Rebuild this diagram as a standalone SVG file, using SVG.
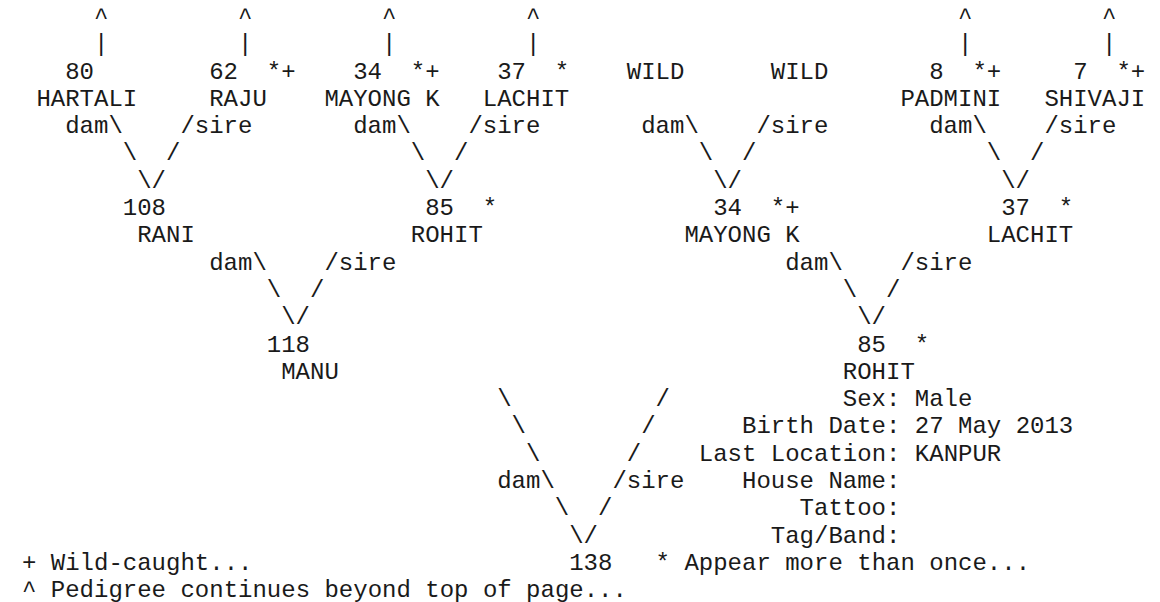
<svg xmlns="http://www.w3.org/2000/svg" width="1160" height="602" viewBox="0 0 1160 602" xml:space="preserve">
<style>
text { font-family: "Liberation Mono", "Courier New", monospace; font-size: 24px; fill: #1a1a1a; white-space: pre; }
</style>
<rect width="1160" height="602" fill="#ffffff"/>
<g id="connectors">
  <text x="94" y="23.9">^</text><text x="238" y="23.9">^</text><text x="382" y="23.9">^</text><text x="526" y="23.9">^</text><text x="958" y="23.9">^</text><text x="1102" y="23.9">^</text>
  <text x="94" y="51.2">|</text><text x="238" y="51.2">|</text><text x="382" y="51.2">|</text><text x="526" y="51.2">|</text><text x="958" y="51.2">|</text><text x="1102" y="51.2">|</text>
  <text x="65.2" y="133.1">dam\</text><text x="180.4" y="133.1">/sire</text>
  <text x="353.2" y="133.1">dam\</text><text x="468.4" y="133.1">/sire</text>
  <text x="641.2" y="133.1">dam\</text><text x="756.4" y="133.1">/sire</text>
  <text x="929.2" y="133.1">dam\</text><text x="1044.4" y="133.1">/sire</text>
  <text x="122.8" y="160.4">\</text><text x="166" y="160.4">/</text>
  <text x="410.8" y="160.4">\</text><text x="454" y="160.4">/</text>
  <text x="698.8" y="160.4">\</text><text x="742" y="160.4">/</text>
  <text x="986.8" y="160.4">\</text><text x="1030" y="160.4">/</text>
  <text x="137.2" y="187.7">\/</text><text x="425.2" y="187.7">\/</text><text x="713.2" y="187.7">\/</text><text x="1001.2" y="187.7">\/</text>
  <text x="209.2" y="269.6">dam\</text><text x="324.4" y="269.6">/sire</text>
  <text x="785.2" y="269.6">dam\</text><text x="900.4" y="269.6">/sire</text>
  <text x="266.8" y="296.9">\</text><text x="310" y="296.9">/</text>
  <text x="842.8" y="296.9">\</text><text x="886" y="296.9">/</text>
  <text x="281.2" y="324.2">\/</text><text x="857.2" y="324.2">\/</text>
  <text x="497.2" y="406.1">\</text><text x="655.6" y="406.1">/</text>
  <text x="511.6" y="433.4">\</text><text x="641.2" y="433.4">/</text>
  <text x="526" y="460.7">\</text><text x="626.8" y="460.7">/</text>
  <text x="497.2" y="488">dam\</text><text x="612.4" y="488">/sire</text>
  <text x="554.8" y="515.3">\</text><text x="598" y="515.3">/</text>
  <text x="569.2" y="542.6">\/</text>
</g>
<g id="node-80"><text x="65.2" y="78.5">80</text><text x="36.4" y="105.8">HARTALI</text></g>
<g id="node-62"><text x="209.2" y="78.5">62</text><text x="266.8" y="78.5">*+</text><text x="209.2" y="105.8">RAJU</text></g>
<g id="node-34-top"><text x="353.2" y="78.5">34</text><text x="410.8" y="78.5">*+</text><text x="324.4" y="105.8">MAYONG K</text></g>
<g id="node-37-top"><text x="497.2" y="78.5">37</text><text x="554.8" y="78.5">*</text><text x="482.8" y="105.8">LACHIT</text></g>
<g id="node-wild-dam"><text x="626.8" y="78.5">WILD</text></g>
<g id="node-wild-sire"><text x="770.8" y="78.5">WILD</text></g>
<g id="node-8"><text x="929.2" y="78.5">8</text><text x="972.4" y="78.5">*+</text><text x="900.4" y="105.8">PADMINI</text></g>
<g id="node-7"><text x="1073.2" y="78.5">7</text><text x="1116.4" y="78.5">*+</text><text x="1044.4" y="105.8">SHIVAJI</text></g>
<g id="node-108"><text x="122.8" y="215">108</text><text x="137.2" y="242.3">RANI</text></g>
<g id="node-85-left"><text x="425.2" y="215">85</text><text x="482.8" y="215">*</text><text x="410.8" y="242.3">ROHIT</text></g>
<g id="node-34-right"><text x="713.2" y="215">34</text><text x="770.8" y="215">*+</text><text x="684.4" y="242.3">MAYONG K</text></g>
<g id="node-37-right"><text x="1001.2" y="215">37</text><text x="1058.8" y="215">*</text><text x="986.8" y="242.3">LACHIT</text></g>
<g id="node-118"><text x="266.8" y="351.5">118</text><text x="281.2" y="378.8">MANU</text></g>
<g id="node-85-sire">
  <text x="857.2" y="351.5">85</text><text x="914.8" y="351.5">*</text>
  <text x="842.8" y="378.8">ROHIT</text>
  <text x="842.8" y="406.1">Sex: Male</text>
  <text x="742" y="433.4">Birth Date: 27 May 2013</text>
  <text x="698.8" y="460.7">Last Location: KANPUR</text>
  <text x="742" y="488">House Name:</text>
  <text x="799.6" y="515.3">Tattoo:</text>
  <text x="770.8" y="542.6">Tag/Band:</text>
</g>
<g id="node-138"><text x="569.2" y="569.9">138</text></g>
<g id="legend">
  <text x="22" y="569.9">+ Wild-caught...</text>
  <text x="655.6" y="569.9">* Appear more than once...</text>
  <text x="22" y="597.2">^ Pedigree continues beyond top of page...</text>
</g>
</svg>
